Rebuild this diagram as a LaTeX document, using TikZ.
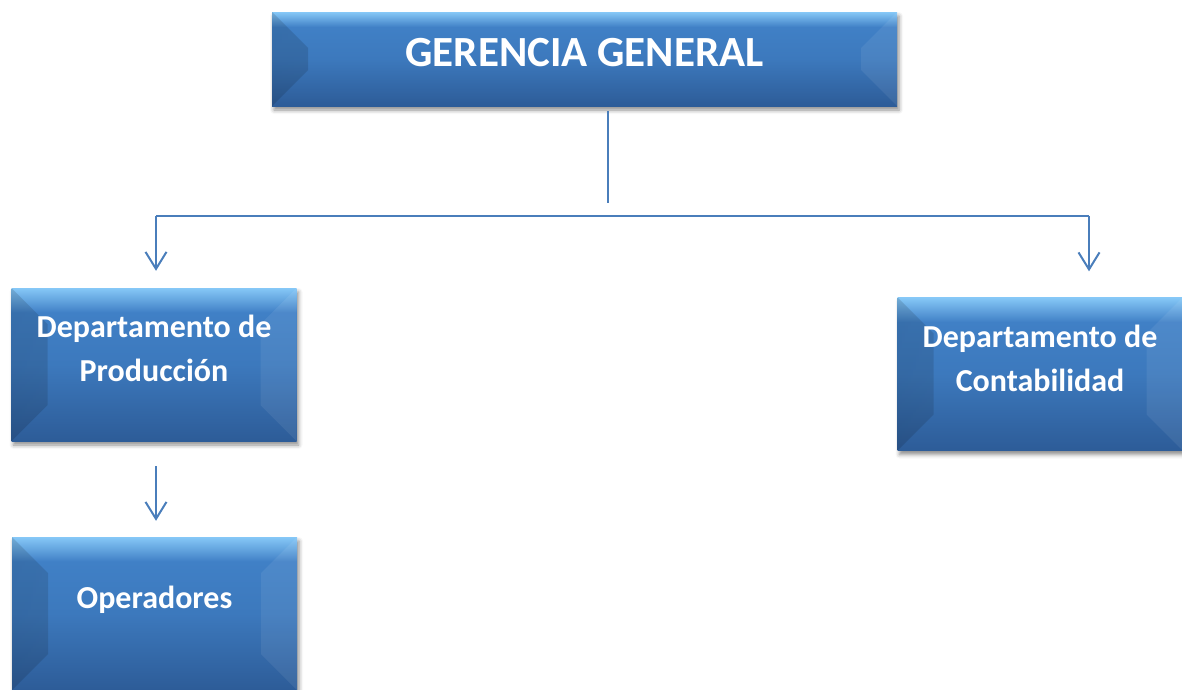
\documentclass[tikz,border=0pt]{standalone}
\usepackage{fontspec}
\setmainfont{Carlito}
\usetikzlibrary{arrows.meta,shadows.blur}
\definecolor{boxtop}{HTML}{86C8F7}
\definecolor{boxmid}{HTML}{4080C6}
\definecolor{boxlow}{HTML}{2D5C98}
\definecolor{linkblue}{HTML}{4A7EBB}
\pgfdeclareverticalshading{boxshade}{100bp}{color(0bp)=(boxlow); color(25bp)=(boxlow); color(50bp)=(boxmid!80!boxlow); color(67bp)=(boxmid); color(75bp)=(boxtop); color(100bp)=(boxtop)}

\begin{document}
\begin{tikzpicture}[x=1pt,y=1pt,
  orgbox/.style={rectangle, shading=boxshade, inner sep=0pt, text=white,
    minimum width=285pt, minimum height=153pt, align=center,
    font=\fontsize{32}{44}\selectfont\bfseries,
    blur shadow={shadow xshift=2pt, shadow yshift=-4pt, shadow blur radius=4pt, shadow opacity=45},
    path picture={
      \shade[left color=black, right color=black!60, opacity=.13] (path picture bounding box.south west)
        -- (path picture bounding box.north west) -- ++(36,-36)
        -- ([shift={(36,36)}]path picture bounding box.south west) -- cycle;
      \fill[white,opacity=.07] (path picture bounding box.south east) -- (path picture bounding box.north east)
        -- ++(-36,-36) -- ([shift={(-36,36)}]path picture bounding box.south east) -- cycle;
    }},
  link/.style={linkblue, line width=2pt},
  tip/.style={-{Straight Barb[length=17pt,width=21pt]}}]
  \useasboundingbox (0,0) rectangle (1182,-689);
  \node (gg) [orgbox, minimum width=625pt, minimum height=94pt, text height=30pt, text depth=16pt,
    font=\fontsize{43}{50}\selectfont\bfseries] at (584.5,-59) {GERENCIA GENERAL};
  \node (prod) [orgbox, text height=70pt, text depth=37pt] at (154,-364.5) {Departamento de\\Producción};
  \node (cont) [orgbox, text height=70pt, text depth=36pt] at (1040,-374) {Departamento de\\Contabilidad};
  \node (oper) [orgbox, text height=22pt, text depth=33pt] at (154.5,-613.5) {Operadores};
  \coordinate (split) at (608,-203);
  \coordinate (busL) at (156,-216);
  \coordinate (busR) at (1089,-216);
  \draw [link] ([yshift=-5pt]gg.south -| split) -- (split);
  \draw [link] (busL) -- (busR);
  \draw [link, tip] (busL) -- ([yshift=17pt]prod.north -| busL);
  \draw [link, tip] (busR) -- ([yshift=26pt]cont.north -| busR);
  \draw [link, tip] ([yshift=-25pt]prod.south -| busL) -- ([yshift=16pt]oper.north -| busL);
\end{tikzpicture}
\end{document}
